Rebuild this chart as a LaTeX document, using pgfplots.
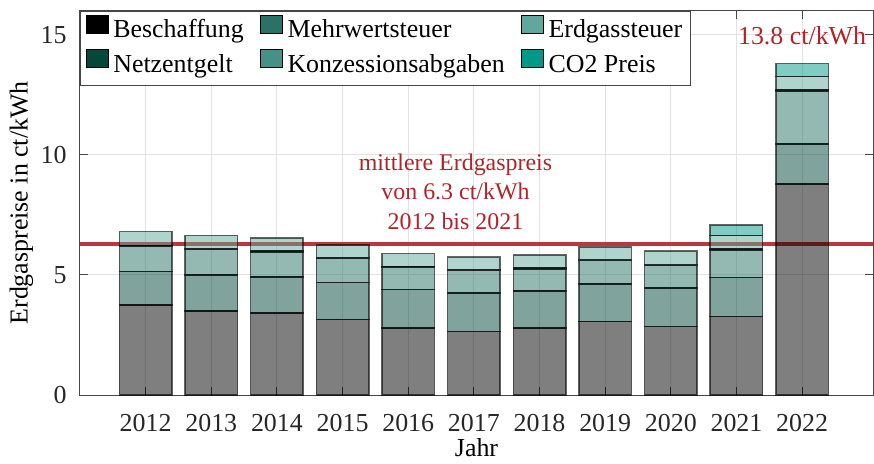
\documentclass[border=0pt]{standalone}
\usepackage{fontspec}
\setmainfont{Liberation Serif}
\usepackage{pgfplots}
\usepackage{pgfplotstable}
\pgfplotsset{compat=1.18}

% component colours (bars are drawn half transparent)
\definecolor{cBesch}{RGB}{0,0,0}
\definecolor{cNetz}{RGB}{4,72,60}
\definecolor{cMwSt}{RGB}{42,114,101}
\definecolor{cKonz}{RGB}{70,145,133}
\definecolor{cErdg}{RGB}{95,168,155}
\definecolor{cCO}{RGB}{0,153,136}
\definecolor{avgred}{RGB}{178,34,40}
\definecolor{gridgray}{RGB}{226,226,226}
\definecolor{axgray}{RGB}{70,70,70}

% gas price components in ct/kWh
\pgfplotstableread{
year B    N    M    K    E    C
2012 3.75 1.39 1.06 0.02 0.58 0
2013 3.50 1.50 1.05 0.04 0.56 0
2014 3.42 1.50 1.04 0.04 0.54 0
2015 3.15 1.54 0.99 0.04 0.53 0
2016 2.78 1.61 0.93 0.04 0.53 0
2017 2.64 1.61 0.93 0.04 0.52 0
2018 2.78 1.54 0.93 0.04 0.53 0
2019 3.07 1.56 0.98 0.04 0.52 0
2020 2.85 1.61 0.94 0.04 0.55 0
2021 3.26 1.64 1.14 0.04 0.56 0.44
2022 8.79 1.66 2.21 0.04 0.55 0.55
}\prices

\begin{document}
\begin{tikzpicture}
\path[use as bounding box] (-80bp,-69bp) rectangle (794bp,395bp);
\begin{axis}[
  scale only axis, width=793bp, height=384.3bp,
  ybar stacked, bar width=0.8,
  xmin=2011, xmax=2023.08, ymin=0, ymax=16,
  xtick={2012,2013,2014,2015,2016,2017,2018,2019,2020,2021,2022},
  xticklabels={2012,2013,2014,2015,2016,2017,2018,2019,2020,2021,2022},
  ytick={0,5,10,15}, yticklabels={0,5,10,15},
  tick align=inside, major tick length=8bp,
  grid=major, major grid style={gridgray, line width=1bp},
  axis line style={axgray, line width=1bp},
  tick style={axgray, line width=1bp},
  font=\fontsize{26}{30}\selectfont,
  tick label style={font=\fontsize{26}{30}\selectfont, text=black!85},
  xticklabel style={yshift=-16bp},
  yticklabel style={xshift=-10bp},
  label style={font=\fontsize{26}{30}\selectfont, text=black!85},
  xlabel={Jahr}, ylabel={Erdgaspreise in ct/kWh},
  every axis x label/.style={at={(rel axis cs:0.5,0)}, anchor=center, yshift=-53bp},
  every axis y label/.style={at={(rel axis cs:-0.0738,0.5)}, anchor=center, rotate=90},
  every axis plot/.append style={fill opacity=0.5, draw=black, draw opacity=0.6, line width=1.5bp},
  legend columns=2, transpose legend,
  legend cell align=left,
  legend style={at={(0,1)}, anchor=north west, draw=axgray, line width=1bp,
    fill=white, fill opacity=1, draw opacity=1, text opacity=1,
    inner xsep=5.5bp, inner ysep=2.5bp,
    font=\fontsize{26}{30}\selectfont,
    nodes={inner xsep=2.5bp, inner ysep=4.8bp, text height=19bp, text depth=6bp},
    /tikz/every odd column/.append style={column sep=2bp},
    /tikz/every even column/.append style={column sep=14bp}},
  legend image code/.code={%
    \draw[#1, fill opacity=1, draw opacity=1, line width=0.8bp]
      (0bp,-2bp) rectangle (22bp,16bp);},
]
\addplot[fill=cBesch] table[x=year, y=B] {\prices};
\addplot[fill=cNetz]  table[x=year, y=N] {\prices};
\addplot[fill=cMwSt]  table[x=year, y=M] {\prices};
\addplot[fill=cKonz]  table[x=year, y=K] {\prices};
\addplot[fill=cErdg]  table[x=year, y=E] {\prices};
\addplot[fill=cCO]    table[x=year, y=C] {\prices};
\legend{Beschaffung, Netzentgelt, Mehrwertsteuer, Konzessionsabgaben, Erdgassteuer, CO2 Preis}

% mean price 2012--2021
\addplot[sharp plot, stack plots=false, forget plot, draw=avgred,
  draw opacity=0.9, line width=3.5bp]
  coordinates {(2011,6.29) (2023.08,6.29)};

\node[text=avgred, align=center, font=\fontsize{24}{30}\selectfont]
  at (axis cs:2016.72,8.46) {mittlere Erdgaspreis\\von 6.3 ct/kWh\\2012 bis 2021};
\node[text=avgred, font=\fontsize{26}{30}\selectfont]
  at (axis cs:2022,14.96) {13.8 ct/kWh};
\end{axis}
\end{tikzpicture}
\end{document}
